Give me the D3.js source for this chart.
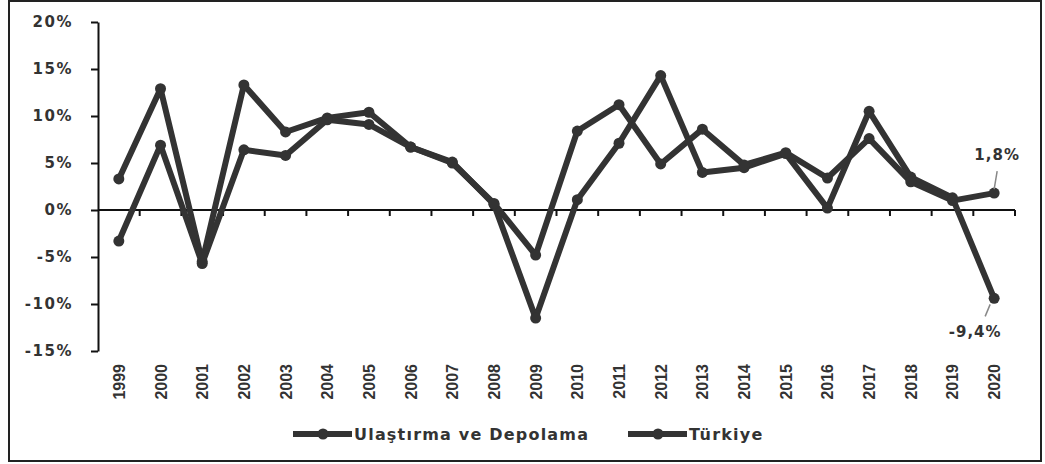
<!DOCTYPE html>
<html>
<head>
<meta charset="utf-8">
<script src="https://cdn.jsdelivr.net/npm/d3@7"></script>
<style>
  body { margin: 0; background: #fff; }
  svg { display: block; }
</style>
</head>
<body>
<svg id="chart" width="1045" height="464"></svg>
<script>
// years on the x axis
const years = ["1999","2000","2001","2002","2003","2004","2005","2006","2007","2008","2009",
  "2010","2011","2012","2013","2014","2015","2016","2017","2018","2019","2020"];
// growth rates, percent
const ulastirma = [3.3, 12.9, -5.5, 13.3, 8.3, 9.8, 10.4, 6.7, 5.1, 0.6, -11.5,
  1.1, 7.1, 14.3, 4.0, 4.5, 6.0, 0.2, 10.5, 3.5, 1.3, -9.4];
const turkiye = [-3.3, 6.9, -5.7, 6.4, 5.8, 9.6, 9.1, 6.7, 5.0, 0.7, -4.8,
  8.4, 11.2, 4.9, 8.6, 4.8, 6.1, 3.4, 7.6, 3.0, 1.0, 1.8];
const yTicks = [20, 15, 10, 5, 0, -5, -10, -15];
const seriesNames = ["Ulaştırma ve Depolama", "Türkiye"];

const svg = d3.select("#chart");
const plotLeft = 98, plotRight = 1015, plotTop = 22, plotBottom = 351;
const ink = "#333";

// frame
svg.append("rect")
  .attr("x", 9).attr("y", 1).attr("width", 1032).attr("height", 460)
  .attr("fill", "none").attr("stroke", "#222").attr("stroke-width", 2);

const x = d3.scaleBand().domain(years).range([plotLeft, plotRight]);
const y = d3.scaleLinear().domain([-15, 20]).range([plotBottom, plotTop]);

// y axis
const yAxis = svg.append("g")
  .attr("transform", `translate(${plotLeft},0)`)
  .call(d3.axisLeft(y).tickValues(yTicks).tickSize(7).tickSizeOuter(0)
    .tickFormat(d => d + "%"));
yAxis.select(".domain").attr("stroke", "#111").attr("stroke-width", 2);
yAxis.selectAll(".tick line").attr("stroke", "#111").attr("stroke-width", 2);
yAxis.selectAll(".tick text")
  .attr("x", -25)
  .attr("fill", "#333")
  .style("font-family", "DejaVu Sans")
  .style("font-weight", "bold")
  .style("font-size", "15px")
  .style("letter-spacing", "1.5px");

// x axis along zero, ticks at band edges
const xAxisG = svg.append("g").attr("transform", `translate(0,${y(0)})`);
xAxisG.append("line")
  .attr("x1", plotLeft).attr("x2", plotRight)
  .attr("stroke", "#111").attr("stroke-width", 2);
const edges = years.map(d => x(d)).concat([plotRight]);
xAxisG.selectAll(".edge").data(edges.slice(1)).join("line")
  .attr("x1", d => d).attr("x2", d => d)
  .attr("y1", 0).attr("y2", 6)
  .attr("stroke", "#111").attr("stroke-width", 2);

// year labels, rotated
svg.append("g").selectAll("text").data(years).join("text")
  .attr("transform", d => `translate(${x(d) + x.bandwidth() / 2 + 6},364) rotate(-90)`)
  .attr("text-anchor", "end")
  .attr("fill", "#333")
  .style("font-family", "Liberation Sans")
  .style("font-weight", "bold")
  .style("font-size", "16px")
  .text(d => d);

// lines
const line = d3.line()
  .x((d, i) => x(years[i]) + x.bandwidth() / 2)
  .y(d => y(d));

[ulastirma, turkiye].forEach(vals => {
  svg.append("path")
    .datum(vals)
    .attr("d", line)
    .attr("fill", "none")
    .attr("stroke", ink)
    .attr("stroke-width", 6)
    .attr("stroke-linejoin", "round");
  svg.append("g").selectAll("circle").data(vals).join("circle")
    .attr("cx", (d, i) => x(years[i]) + x.bandwidth() / 2)
    .attr("cy", d => y(d))
    .attr("r", 5.5)
    .attr("fill", ink);
});

// end labels
const lastX = x(years[years.length - 1]) + x.bandwidth() / 2;
svg.append("line")
  .attr("x1", lastX).attr("y1", y(turkiye[21]) - 4)
  .attr("x2", lastX + 3).attr("y2", y(turkiye[21]) - 22)
  .attr("stroke", "#888").attr("stroke-width", 1.5);
svg.append("text")
  .attr("x", lastX + 3).attr("y", 160)
  .attr("text-anchor", "middle")
  .attr("fill", "#333")
  .style("font-family", "DejaVu Sans").style("font-weight", "bold").style("font-size", "15px")
  .style("letter-spacing", "1px")
  .text("1,8%");
svg.append("line")
  .attr("x1", lastX - 4).attr("y1", y(ulastirma[21]) + 6)
  .attr("x2", lastX - 9).attr("y2", y(ulastirma[21]) + 18)
  .attr("stroke", "#888").attr("stroke-width", 1.5);
svg.append("text")
  .attr("x", lastX - 19).attr("y", 337)
  .attr("text-anchor", "middle")
  .attr("fill", "#333")
  .style("font-family", "DejaVu Sans").style("font-weight", "bold").style("font-size", "15px")
  .style("letter-spacing", "1px")
  .text("-9,4%");

// legend
const legendX = [293, 628];
const lg = svg.append("g").selectAll("g").data(seriesNames).join("g")
  .attr("transform", (d, i) => `translate(${legendX[i]},434)`);
lg.append("line")
  .attr("x1", 0).attr("x2", 59)
  .attr("stroke", ink).attr("stroke-width", 6);
lg.append("circle").attr("cx", 30).attr("r", 5.5).attr("fill", ink);
lg.append("text")
  .attr("x", 61).attr("y", 6)
  .attr("fill", "#333")
  .style("font-family", "DejaVu Sans").style("font-weight", "bold").style("font-size", "16px")
  .style("letter-spacing", "1.2px")
  .text(d => d);
</script>
</body>
</html>
